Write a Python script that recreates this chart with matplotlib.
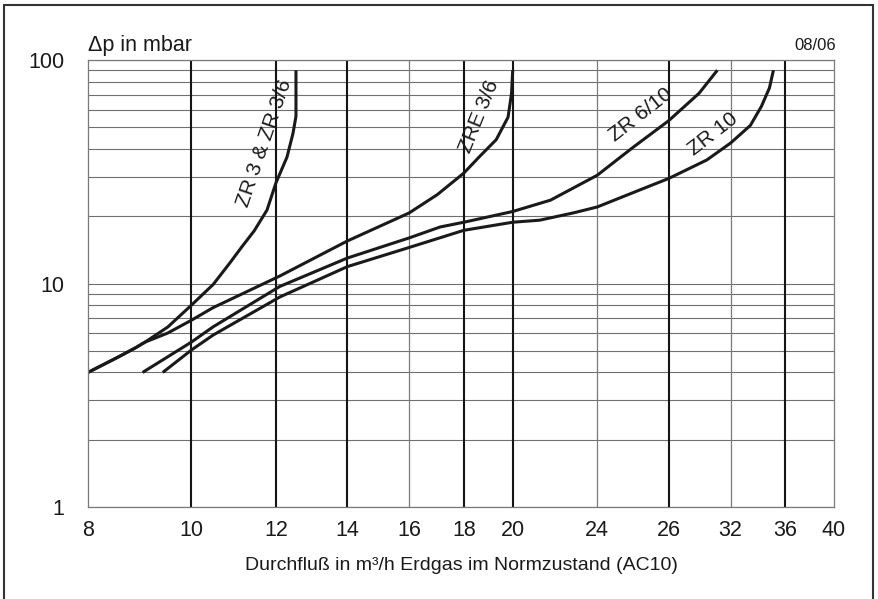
import matplotlib
matplotlib.use("Agg")
import matplotlib.pyplot as plt
from matplotlib.patches import Rectangle

plt.rcParams['font.family'] = ['Liberation Sans', 'DejaVu Sans']

# flow (m3/h) and pressure drop (mbar)
zr3_x = [8.0, 8.54, 8.86, 9.05, 9.5, 10.0, 10.48, 10.87, 11.15, 11.45, 11.77, 12.0, 12.29, 12.45, 12.53, 12.53]
zr3_y = [4.0, 4.69, 5.15, 5.47, 6.38, 8.0, 9.9, 12.4, 14.6, 17.2, 21.3, 28.2, 36.8, 47.0, 56.0, 90.0]

zre36_x = [8.0, 8.54, 8.86, 9.05, 9.5, 10.0, 10.48, 12.1, 14.0, 16.0, 17.0, 18.0, 18.6, 19.3, 19.8, 19.95, 20.0]
zre36_y = [4.0, 4.69, 5.15, 5.47, 6.0, 6.85, 7.8, 10.8, 15.5, 20.7, 25.0, 31.2, 36.8, 44.0, 55.5, 71.0, 90.0]

zr610_x = [9.0, 10.0, 10.48, 12.1, 14.0, 16.0, 17.1, 18.0, 20.0, 21.7, 24.0, 25.9, 28.0, 29.9, 31.1]
zr610_y = [4.0, 5.47, 6.4, 9.7, 13.0, 16.0, 17.9, 18.8, 21.0, 23.6, 30.5, 40.5, 53.5, 71.0, 90.0]

zr10_x = [9.4, 10.0, 10.48, 12.1, 14.0, 16.0, 18.0, 20.0, 21.2, 22.8, 24.0, 26.3, 28.0, 30.4, 32.0, 33.4, 34.2, 34.8, 35.1]
zr10_y = [4.0, 5.04, 5.88, 8.7, 11.9, 14.5, 17.3, 18.8, 19.2, 20.7, 22.0, 26.2, 29.5, 35.7, 42.5, 51.0, 62.0, 75.0, 90.0]

x_ticks = [8, 10, 12, 14, 16, 18, 20, 24, 28, 32, 36, 40]
x_labels = ['8', '10', '12', '14', '16', '18', '20', '24', '26', '32', '36', '40']
heavy_x = [10, 12, 14, 18, 20, 28, 36]
y_ticks = [1, 10, 100]
y_labels = ['1', '10', '100']

fig = plt.figure(figsize=(8.79, 5.99), dpi=100)
ax = fig.add_axes([88/879, 92/599, 746/879, 447/599])

ax.set_xscale('log')
ax.set_yscale('log')
ax.set_xlim(8, 40)
ax.set_ylim(1, 100)

# grid
ax.grid(True, which='both', axis='y', color='#707070', lw=0.8)
for xv in x_ticks[1:-1]:
    if xv in heavy_x:
        ax.axvline(xv, color='#151515', lw=1.5)
    else:
        ax.axvline(xv, color='#7a7a7a', lw=0.9)

for xs, ys in [(zr3_x, zr3_y), (zre36_x, zre36_y), (zr610_x, zr610_y), (zr10_x, zr10_y)]:
    ax.plot(xs, ys, color='#1a1a1a', lw=2.2, solid_joinstyle='round', solid_capstyle='butt')

ax.set_xticks(x_ticks)
ax.set_xticklabels(x_labels)
ax.set_xticks([], minor=True)
ax.set_yticks(y_ticks)
ax.set_yticklabels(y_labels)
ax.tick_params(axis='both', which='both', length=0, labelsize=15.5, colors='#1a1a1a')
ax.tick_params(axis='x', pad=9)
ax.tick_params(axis='y', pad=17)
for s in ax.spines.values():
    s.set_color('#7a7a7a')
    s.set_linewidth(0.9)

lab = dict(fontsize=15, color='#1a1a1a', ha='center', va='center')
ax.text(11.70, 42.5, 'ZR 3 & ZR 3/6', rotation=71, **lab)
ax.text(18.6, 56, 'ZRE 3/6', rotation=68, **lab)
ax.text(26.4, 57, 'ZR 6/10', rotation=38, **lab)
ax.text(30.8, 46.5, 'ZR 10', rotation=38, **lab)

fig.text(88/879, 1 - 45/599, '\u0394p in mbar', fontsize=15.5, ha='left', va='center', color='#1a1a1a')
fig.text(836/879, 1 - 45/599, '08/06', fontsize=12, ha='right', va='center', color='#1a1a1a')
fig.text(461/879, 1 - 565/599, 'Durchflu\u00df in m\u00b3/h Erdgas im Normzustand (AC10)',
         fontsize=14, ha='center', va='center', color='#1a1a1a')

fig.patches.append(Rectangle((4/879, -0.01), 869/879, 1 - 5/599 + 0.01, transform=fig.transFigure,
                             fill=False, edgecolor='#333333', lw=1.5))

fig.savefig('out.png', dpi=100)
